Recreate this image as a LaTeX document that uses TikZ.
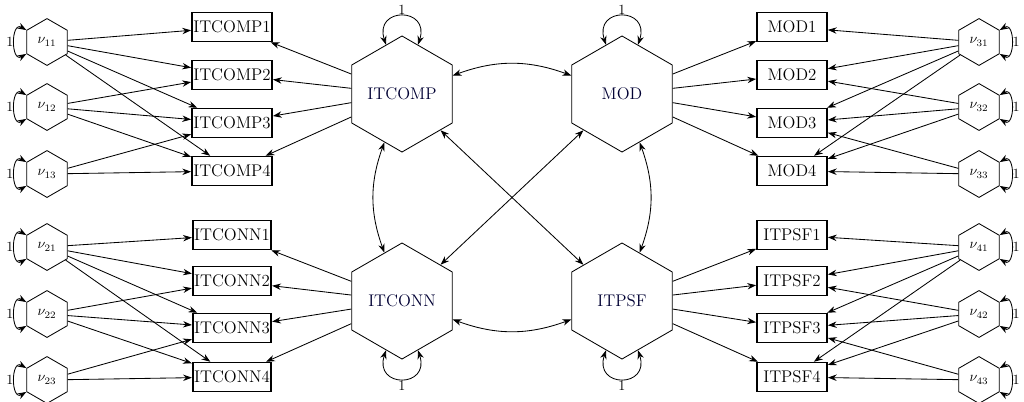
\documentclass[tikz,border=0pt]{standalone}
\usetikzlibrary{shapes.geometric,arrows.meta}
\tikzset{
  latent/.style={regular polygon, regular polygon sides=6, shape border rotate=30, draw, semithick, minimum size=2.9cm, inner sep=0pt, font=\large, text=black!80!blue},
  err/.style={regular polygon, regular polygon sides=6, shape border rotate=30, draw, semithick, minimum size=1.17cm, inner sep=0pt},
  manifest/.style={rectangle, draw, very thick, minimum width=1.75cm, minimum height=0.72cm, inner sep=1pt, font=\large},
  >={Stealth[length=2.2mm,width=1.6mm]}
}
\begin{document}
\begin{tikzpicture}[x=0.025cm,y=-0.025cm,semithick]
  \useasboundingbox (0,0) rectangle (1024,401);
  % latent variables
  \node [latent] (ITCOMP) at (402,94) {ITCOMP};
  \node [latent] (MOD) at (622,94) {MOD};
  \node [latent] (ITCONN) at (402,301) {ITCONN};
  \node [latent] (ITPSF) at (622,301) {ITPSF};
  % indicators
  \foreach \i/\y in {1/27,2/75,3/123,4/171} {
    \node [manifest] (ITCOMP\i) at (232,\y) {ITCOMP\i};
    \node [manifest] (MOD\i) at (792,\y) {MOD\i};
  }
  \foreach \i/\y in {1/235,2/281,3/328,4/377} {
    \node [manifest] (ITCONN\i) at (232,\y) {ITCONN\i};
    \node [manifest] (ITPSF\i) at (792,\y) {ITPSF\i};
  }
  % error terms
  \foreach \j/\y in {1/42,2/107,3/174} {
    \node [err] (nu1\j) at (47,\y) {$\nu_{1\j}$};
    \node [err] (nu3\j) at (979,\y) {$\nu_{3\j}$};
  }
  \foreach \j/\y in {1/247,2/314,3/380} {
    \node [err] (nu2\j) at (47,\y) {$\nu_{2\j}$};
    \node [err] (nu4\j) at (979,\y) {$\nu_{4\j}$};
  }
  % loadings
  \foreach \i in {1,...,4} {
    \draw [->] (ITCOMP) -- (ITCOMP\i);
    \draw [->] (ITCONN) -- (ITCONN\i);
    \draw [->] (MOD) -- (MOD\i);
    \draw [->] (ITPSF) -- (ITPSF\i);
  }
  \foreach \j/\lst in {1/{1,2,3,4},2/{2,3,4},3/{3,4}} {
    \foreach \i in \lst {
      \draw [->] (nu1\j) -- (ITCOMP\i);
      \draw [->] (nu2\j) -- (ITCONN\i);
      \draw [->] (nu3\j) -- (MOD\i);
      \draw [->] (nu4\j) -- (ITPSF\i);
    }
  }
  % variances
  \foreach \n in {nu11,nu12,nu13,nu21,nu22,nu23}
    \path [<->] (\n) edge [out=150, in=210, min distance=0.45cm] node [left, inner sep=0.5pt] {1} (\n);
  \foreach \n in {nu31,nu32,nu33,nu41,nu42,nu43}
    \path [<->] (\n) edge [out=30, in=-30, min distance=0.45cm] node [right, inner sep=0.5pt] {1} (\n);
  \path [<->]
    (ITCOMP) edge [out=108, in=72, min distance=1cm] node [above, inner sep=1pt] {1} (ITCOMP)
    (MOD) edge [out=108, in=72, min distance=1cm] node [above, inner sep=1pt] {1} (MOD)
    (ITCONN) edge [out=-108, in=-72, min distance=1cm] node [below, inner sep=1pt] {1} (ITCONN)
    (ITPSF) edge [out=-108, in=-72, min distance=1cm] node [below, inner sep=1pt] {1} (ITPSF);
  % covariances
  \path [<->]
    (ITCOMP) edge [bend left=20] (MOD)
    (ITCONN) edge [bend right=20] (ITPSF)
    (ITCOMP) edge [bend right=20] (ITCONN)
    (MOD) edge [bend left=20] (ITPSF)
    (ITCOMP) edge (ITPSF)
    (MOD) edge (ITCONN);
\end{tikzpicture}
\end{document}
